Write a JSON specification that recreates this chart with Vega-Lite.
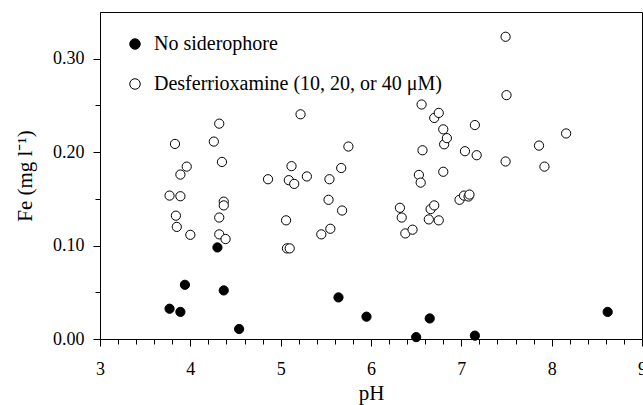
{
  "$schema": "https://vega.github.io/schema/vega-lite/v6.json",
  "width": 542,
  "height": 327,
  "autosize": {"type": "none"},
  "padding": {"left": 100, "top": 12, "right": 1, "bottom": 66},
  "background": "white",
  "config": {
    "view": {"stroke": "black", "strokeWidth": 1},
    "font": "Liberation Serif",
    "axis": {
      "labelFont": "Liberation Serif",
      "labelFontSize": 18,
      "labelColor": "black",
      "titleFont": "Liberation Serif",
      "titleFontSize": 21,
      "titleFontWeight": "normal",
      "titleColor": "black",
      "domainColor": "black",
      "domainWidth": 1,
      "tickColor": "black",
      "tickWidth": 1,
      "grid": false,
      "labelFlush": false,
      "labelOverlap": false
    },
    "legend": {
      "labelFont": "Liberation Serif",
      "labelFontSize": 20,
      "labelColor": "black",
      "labelLimit": 0
    }
  },
  "data": {
    "values": [
      {"pH": 3.77, "Fe": 0.0324, "group": "No siderophore"},
      {"pH": 3.89, "Fe": 0.029, "group": "No siderophore"},
      {"pH": 3.94, "Fe": 0.058, "group": "No siderophore"},
      {"pH": 4.30, "Fe": 0.098, "group": "No siderophore"},
      {"pH": 4.37, "Fe": 0.052, "group": "No siderophore"},
      {"pH": 4.54, "Fe": 0.0107, "group": "No siderophore"},
      {"pH": 5.64, "Fe": 0.0445, "group": "No siderophore"},
      {"pH": 5.95, "Fe": 0.0239, "group": "No siderophore"},
      {"pH": 6.50, "Fe": 0.002, "group": "No siderophore"},
      {"pH": 6.65, "Fe": 0.022, "group": "No siderophore"},
      {"pH": 7.15, "Fe": 0.0036, "group": "No siderophore"},
      {"pH": 8.62, "Fe": 0.029, "group": "No siderophore"},
      {"pH": 3.77, "Fe": 0.1535, "group": "Desferrioxamine (10, 20, or 40 μM)"},
      {"pH": 3.83, "Fe": 0.2088, "group": "Desferrioxamine (10, 20, or 40 μM)"},
      {"pH": 3.89, "Fe": 0.176, "group": "Desferrioxamine (10, 20, or 40 μM)"},
      {"pH": 3.96, "Fe": 0.1845, "group": "Desferrioxamine (10, 20, or 40 μM)"},
      {"pH": 3.89, "Fe": 0.1528, "group": "Desferrioxamine (10, 20, or 40 μM)"},
      {"pH": 3.84, "Fe": 0.132, "group": "Desferrioxamine (10, 20, or 40 μM)"},
      {"pH": 3.85, "Fe": 0.120, "group": "Desferrioxamine (10, 20, or 40 μM)"},
      {"pH": 4.00, "Fe": 0.1115, "group": "Desferrioxamine (10, 20, or 40 μM)"},
      {"pH": 4.26, "Fe": 0.2113, "group": "Desferrioxamine (10, 20, or 40 μM)"},
      {"pH": 4.32, "Fe": 0.2305, "group": "Desferrioxamine (10, 20, or 40 μM)"},
      {"pH": 4.35, "Fe": 0.1895, "group": "Desferrioxamine (10, 20, or 40 μM)"},
      {"pH": 4.37, "Fe": 0.147, "group": "Desferrioxamine (10, 20, or 40 μM)"},
      {"pH": 4.37, "Fe": 0.143, "group": "Desferrioxamine (10, 20, or 40 μM)"},
      {"pH": 4.32, "Fe": 0.130, "group": "Desferrioxamine (10, 20, or 40 μM)"},
      {"pH": 4.32, "Fe": 0.112, "group": "Desferrioxamine (10, 20, or 40 μM)"},
      {"pH": 4.39, "Fe": 0.107, "group": "Desferrioxamine (10, 20, or 40 μM)"},
      {"pH": 4.86, "Fe": 0.171, "group": "Desferrioxamine (10, 20, or 40 μM)"},
      {"pH": 5.06, "Fe": 0.127, "group": "Desferrioxamine (10, 20, or 40 μM)"},
      {"pH": 5.09, "Fe": 0.170, "group": "Desferrioxamine (10, 20, or 40 μM)"},
      {"pH": 5.12, "Fe": 0.185, "group": "Desferrioxamine (10, 20, or 40 μM)"},
      {"pH": 5.15, "Fe": 0.166, "group": "Desferrioxamine (10, 20, or 40 μM)"},
      {"pH": 5.07, "Fe": 0.097, "group": "Desferrioxamine (10, 20, or 40 μM)"},
      {"pH": 5.10, "Fe": 0.097, "group": "Desferrioxamine (10, 20, or 40 μM)"},
      {"pH": 5.22, "Fe": 0.2405, "group": "Desferrioxamine (10, 20, or 40 μM)"},
      {"pH": 5.29, "Fe": 0.174, "group": "Desferrioxamine (10, 20, or 40 μM)"},
      {"pH": 5.45, "Fe": 0.112, "group": "Desferrioxamine (10, 20, or 40 μM)"},
      {"pH": 5.53, "Fe": 0.149, "group": "Desferrioxamine (10, 20, or 40 μM)"},
      {"pH": 5.54, "Fe": 0.171, "group": "Desferrioxamine (10, 20, or 40 μM)"},
      {"pH": 5.55, "Fe": 0.118, "group": "Desferrioxamine (10, 20, or 40 μM)"},
      {"pH": 5.67, "Fe": 0.183, "group": "Desferrioxamine (10, 20, or 40 μM)"},
      {"pH": 5.68, "Fe": 0.1375, "group": "Desferrioxamine (10, 20, or 40 μM)"},
      {"pH": 5.75, "Fe": 0.206, "group": "Desferrioxamine (10, 20, or 40 μM)"},
      {"pH": 6.32, "Fe": 0.1404, "group": "Desferrioxamine (10, 20, or 40 μM)"},
      {"pH": 6.34, "Fe": 0.130, "group": "Desferrioxamine (10, 20, or 40 μM)"},
      {"pH": 6.38, "Fe": 0.113, "group": "Desferrioxamine (10, 20, or 40 μM)"},
      {"pH": 6.46, "Fe": 0.117, "group": "Desferrioxamine (10, 20, or 40 μM)"},
      {"pH": 6.53, "Fe": 0.1756, "group": "Desferrioxamine (10, 20, or 40 μM)"},
      {"pH": 6.55, "Fe": 0.1674, "group": "Desferrioxamine (10, 20, or 40 μM)"},
      {"pH": 6.56, "Fe": 0.251, "group": "Desferrioxamine (10, 20, or 40 μM)"},
      {"pH": 6.57, "Fe": 0.202, "group": "Desferrioxamine (10, 20, or 40 μM)"},
      {"pH": 6.64, "Fe": 0.128, "group": "Desferrioxamine (10, 20, or 40 μM)"},
      {"pH": 6.66, "Fe": 0.139, "group": "Desferrioxamine (10, 20, or 40 μM)"},
      {"pH": 6.70, "Fe": 0.2366, "group": "Desferrioxamine (10, 20, or 40 μM)"},
      {"pH": 6.70, "Fe": 0.143, "group": "Desferrioxamine (10, 20, or 40 μM)"},
      {"pH": 6.75, "Fe": 0.242, "group": "Desferrioxamine (10, 20, or 40 μM)"},
      {"pH": 6.75, "Fe": 0.127, "group": "Desferrioxamine (10, 20, or 40 μM)"},
      {"pH": 6.80, "Fe": 0.2244, "group": "Desferrioxamine (10, 20, or 40 μM)"},
      {"pH": 6.81, "Fe": 0.2084, "group": "Desferrioxamine (10, 20, or 40 μM)"},
      {"pH": 6.84, "Fe": 0.215, "group": "Desferrioxamine (10, 20, or 40 μM)"},
      {"pH": 6.80, "Fe": 0.179, "group": "Desferrioxamine (10, 20, or 40 μM)"},
      {"pH": 6.98, "Fe": 0.149, "group": "Desferrioxamine (10, 20, or 40 μM)"},
      {"pH": 7.03, "Fe": 0.1535, "group": "Desferrioxamine (10, 20, or 40 μM)"},
      {"pH": 7.04, "Fe": 0.201, "group": "Desferrioxamine (10, 20, or 40 μM)"},
      {"pH": 7.08, "Fe": 0.1525, "group": "Desferrioxamine (10, 20, or 40 μM)"},
      {"pH": 7.09, "Fe": 0.1546, "group": "Desferrioxamine (10, 20, or 40 μM)"},
      {"pH": 7.15, "Fe": 0.229, "group": "Desferrioxamine (10, 20, or 40 μM)"},
      {"pH": 7.17, "Fe": 0.1967, "group": "Desferrioxamine (10, 20, or 40 μM)"},
      {"pH": 7.49, "Fe": 0.3235, "group": "Desferrioxamine (10, 20, or 40 μM)"},
      {"pH": 7.50, "Fe": 0.261, "group": "Desferrioxamine (10, 20, or 40 μM)"},
      {"pH": 7.49, "Fe": 0.190, "group": "Desferrioxamine (10, 20, or 40 μM)"},
      {"pH": 7.86, "Fe": 0.207, "group": "Desferrioxamine (10, 20, or 40 μM)"},
      {"pH": 7.92, "Fe": 0.1845, "group": "Desferrioxamine (10, 20, or 40 μM)"},
      {"pH": 8.16, "Fe": 0.220, "group": "Desferrioxamine (10, 20, or 40 μM)"}
    ]
  },
  "layer": [
    {
      "mark": {"type": "point", "opacity": 0},
      "encoding": {
        "x": {
          "field": "pH", "type": "quantitative",
          "scale": {"domain": [3, 9], "nice": false, "zero": false},
          "axis": {"orient": "bottom", "values": [3.2, 3.4, 3.6, 3.8, 4.2, 4.4, 4.6, 4.8, 5.2, 5.4, 5.6, 5.8, 6.2, 6.4, 6.6, 6.8, 7.2, 7.4, 7.6, 7.8, 8.2, 8.4, 8.6, 8.8], "labels": false, "domain": false, "title": null, "tickSize": 5}
        },
        "y": {
          "field": "Fe", "type": "quantitative",
          "scale": {"domain": [0, 0.35], "nice": false},
          "axis": {"orient": "left", "values": [0.05, 0.15, 0.25], "labels": false, "domain": false, "title": null, "tickSize": 5}
        }
      }
    },
    {
      "mark": {"type": "point", "shape": "circle", "filled": true, "stroke": "black", "strokeWidth": 1, "size": 85, "opacity": 1},
      "encoding": {
        "x": {
          "field": "pH", "type": "quantitative",
          "scale": {"domain": [3, 9], "nice": false, "zero": false},
          "axis": {"orient": "bottom", "values": [3, 4, 5, 6, 7, 8, 9], "title": "pH", "tickSize": 7, "labelPadding": 14, "titlePadding": 4, "labelFont": "Liberation Serif", "labelFontSize": 18, "titleFont": "Liberation Serif"}
        },
        "y": {
          "field": "Fe", "type": "quantitative",
          "scale": {"domain": [0, 0.35], "nice": false},
          "axis": {"orient": "left", "values": [0, 0.1, 0.2, 0.3], "format": ".2f", "title": "Fe (mg l⁻¹)", "tickSize": 7, "labelPadding": 9, "titlePadding": 17, "labelFont": "Liberation Serif", "labelFontSize": 18, "titleFont": "Liberation Serif"}
        },
        "fill": {
          "field": "group", "type": "nominal",
          "scale": {"domain": ["No siderophore", "Desferrioxamine (10, 20, or 40 μM)"], "range": ["black", "white"]},
          "legend": {
            "orient": "none", "legendX": 25, "legendY": 22, "title": null, "padding": 0,
            "symbolType": "circle", "symbolSize": 110, "symbolStrokeColor": "black", "symbolStrokeWidth": 1,
            "labelOffset": 9, "rowPadding": 20, "labelFontSize": 20, "labelLimit": 0, "labelFont": "Liberation Serif"
          }
        }
      }
    }
  ],
  "resolve": {"axis": {"x": "independent", "y": "independent"}}
}
